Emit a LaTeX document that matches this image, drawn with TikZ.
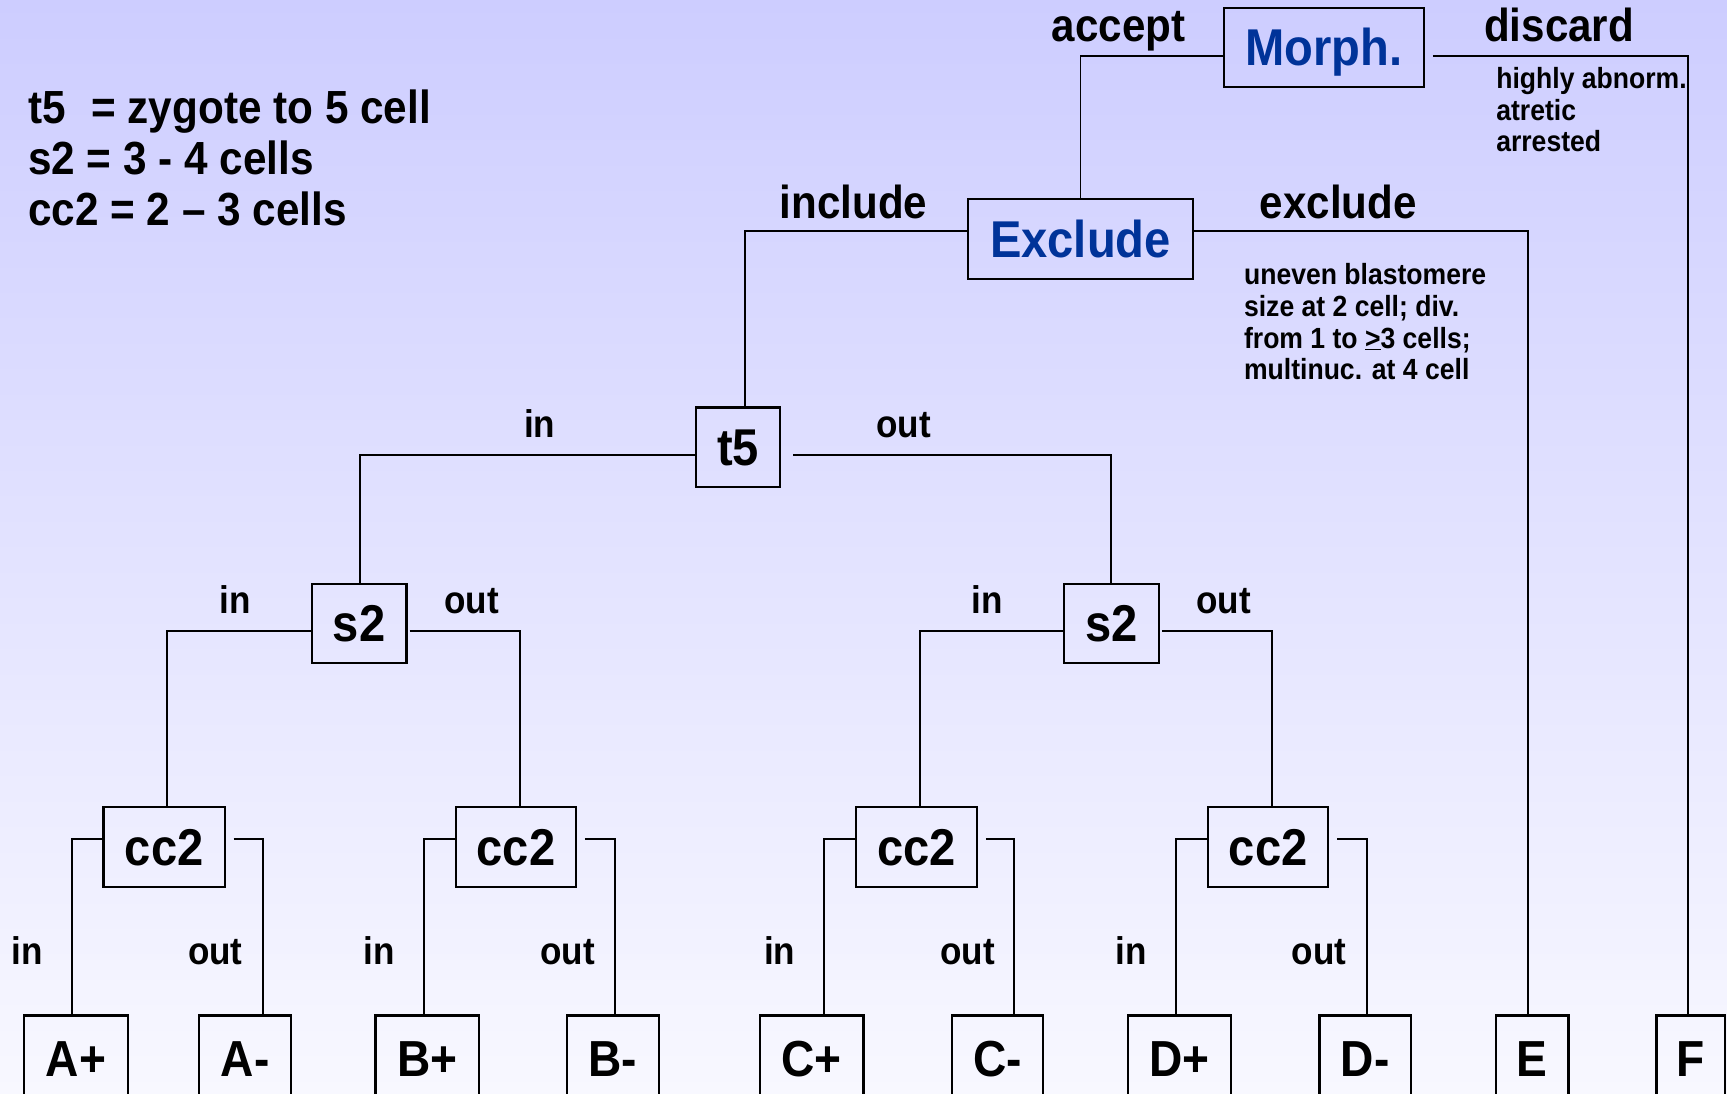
\documentclass[tikz,border=0pt]{standalone}
\usepackage{fontspec}
\setmainfont{Liberation Sans}[FakeStretch=0.91]
\definecolor{bgtop}{RGB}{205,205,255}
\definecolor{bgbot}{RGB}{248,248,255}
\definecolor{testblue}{RGB}{0,51,153}
\begin{document}
\begin{tikzpicture}[x=1pt,y=-1pt,
  box/.style={draw, line width=2pt, inner sep=0pt, minimum height=72pt,
    text height=33.6pt, text depth=0pt,
    font=\bfseries\fontsize{47}{56}\selectfont},
  testbox/.style={box, text=testblue},
  leaf/.style={box, minimum height=78pt, text height=33pt,
    font=\bfseries\fontsize{46}{55}\selectfont},
  wire/.style={line width=1.8pt},
  branch/.style={anchor=base, font=\bfseries\fontsize{42}{50}\selectfont},
  inout/.style={anchor=base, font=\bfseries\fontsize{35}{42}\selectfont},
  legend/.style={anchor=base west, font=\bfseries\fontsize{42.2}{50}\selectfont},
  note/.style={anchor=base west, font=\bfseries\fontsize{26.5}{32}\selectfont}]

\useasboundingbox (0,0) rectangle (1568,993);
\shade[top color=bgtop, bottom color=bgbot] (0,0) rectangle (1568,993);
\clip (0,0) rectangle (1568,993);

% decision boxes
\node[testbox, minimum width=182pt] (mo) at (1202,43) {Morph.};
\node[testbox, minimum width=204pt] (ex) at (981,217) {Exclude};
\node[box, minimum width=76pt] (t5) at (670,406) {t5};
\node[box, minimum width=86pt] (sL) at (326,566) {s2};
\node[box, minimum width=86pt] (sR) at (1009,566) {s2};
\node[box, minimum width=110pt] (c1) at (149,769) {cc2};
\node[box, minimum width=109pt] (c2) at (468.5,769) {cc2};
\node[box, minimum width=110pt] (c3) at (832,769) {cc2};
\node[box, minimum width=109pt] (c4) at (1151.5,769) {cc2};

% outcome boxes
\node[leaf, minimum width=94pt] (Ap) at (69,961) {A+};
\node[leaf, minimum width=83pt] (Am) at (222.5,961) {A-};
\node[leaf, minimum width=94pt] (Bp) at (388,961) {B+};
\node[leaf, minimum width=83pt] (Bm) at (556.5,961) {B-};
\node[leaf, minimum width=94pt] (Cp) at (737,961) {C+};
\node[leaf, minimum width=83pt] (Cm) at (905.5,961) {C-};
\node[leaf, minimum width=94pt] (Dp) at (1071,961) {D+};
\node[leaf, minimum width=83pt] (Dm) at (1239.5,961) {D-};
\node[leaf, minimum width=66pt] (E) at (1391,961) {E};
\node[leaf, minimum width=62pt] (F) at (1535,961) {F};

% connectors
\draw[wire] ([yshift=-8pt]mo.west) -| (ex.north);
\draw[wire] ([xshift=7pt,yshift=-8pt]mo.east) -| ([xshift=-2pt]F.north);
\draw[wire] ([yshift=7pt]ex.west) -| ([xshift=6pt]t5.north);
\draw[wire] ([yshift=7pt]ex.east) -| ([xshift=-4pt]E.north);
\draw[wire] ([yshift=-7pt]t5.west) -| ([xshift=1pt]sL.north);
\draw[wire] ([xshift=11pt,yshift=-7pt]t5.east) -| (sR.north);
\draw[wire] ([yshift=-7pt]sL.west) -| ([xshift=3pt]c1.north);
\draw[wire] ([xshift=2pt,yshift=-7pt]sL.east) -| ([xshift=3.5pt]c2.north);
\draw[wire] ([yshift=-7pt]sR.west) -| ([xshift=3pt]c3.north);
\draw[wire] ([xshift=2pt,yshift=-7pt]sR.east) -| ([xshift=3.5pt]c4.north);
\draw[wire] ([yshift=7pt]c1.west) -| ([xshift=-4pt]Ap.north);
\draw[wire] ([xshift=7pt,yshift=7pt]c1.east) -| ([xshift=16.5pt]Am.north);
\draw[wire] ([yshift=7pt]c2.west) -| ([xshift=-3pt]Bp.north);
\draw[wire] ([xshift=7pt,yshift=7pt]c2.east) -| ([xshift=1.5pt]Bm.north);
\draw[wire] ([yshift=7pt]c3.west) -| ([xshift=11pt]Cp.north);
\draw[wire] ([xshift=7pt,yshift=7pt]c3.east) -| ([xshift=15.5pt]Cm.north);
\draw[wire] ([yshift=7pt]c4.west) -| ([xshift=-3pt]Dp.north);
\draw[wire] ([xshift=7pt,yshift=7pt]c4.east) -| ([xshift=1.5pt]Dm.north);

% branch labels
\node[branch] (lacc) at (1015.5,38) {accept};
\node[branch] (ldis) at (1415.5,38) {discard};
\node[branch] (linc) at (775,198) {include};
\node[branch] (lexc) at (1215,198) {exclude};
\node[inout] (t5in) at (490,397) {in};
\node[inout] (t5out) at (820.5,397) {out};
\node[inout] (sLin) at (213.5,557) {in};
\node[inout] (sLout) at (428,557) {out};
\node[inout] (sRin) at (896,557) {in};
\node[inout] (sRout) at (1111,557) {out};
\node[inout] (c1in) at (24.5,876) {in};
\node[inout] (c1out) at (195.5,876) {out};
\node[inout] (c2in) at (344,876) {in};
\node[inout] (c2out) at (515.5,876) {out};
\node[inout] (c3in) at (708,876) {in};
\node[inout] (c3out) at (878.5,876) {out};
\node[inout] (c4in) at (1027,876) {in};
\node[inout] (c4out) at (1197.5,876) {out};

% legend
\node[legend] (key1) at (22,112) {t5\hspace{0.55em}= zygote to 5 cell};
\node[legend] (key2) at (22,158) {s2 = 3 - 4 cells};
\node[legend] (key3) at (22,205) {cc2 = 2 – 3 cells};

% criteria notes
\node[note] (d1) at (1355,80) {highly abnorm.};
\node[note] (d2) at (1355,109) {atretic};
\node[note] (d3) at (1355,138) {arrested};
\node[note] (x1) at (1126,258) {uneven blastomere};
\node[note] (x2) at (1126,287) {size at 2 cell; div.};
\node[note] (x3) at (1126,316) {from 1 to \underline{>}3 cells;};
\node[note] (x4) at (1126,345) {multinuc. at 4 cell};
\end{tikzpicture}
\end{document}
